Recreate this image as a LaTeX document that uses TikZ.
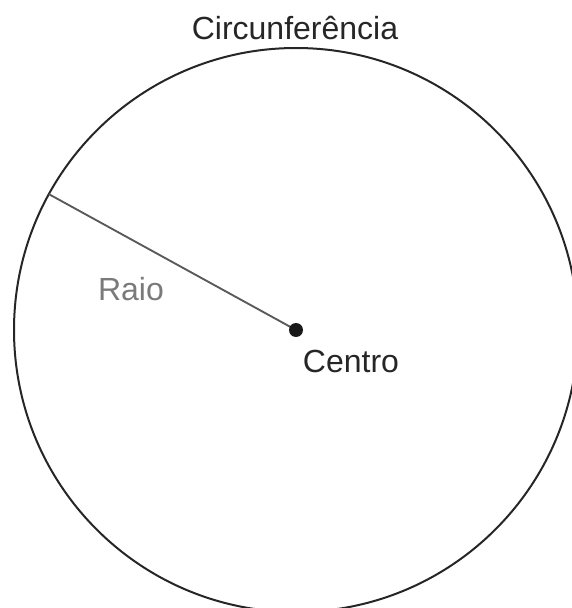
\documentclass[tikz,border=0pt]{standalone}
\usepackage{fontspec}
\setmainfont{Liberation Sans}
\usepackage{xcolor}
\usetikzlibrary{calc}
\definecolor{raiocinza}{HTML}{595959}
\definecolor{textocinza}{HTML}{7A7A7A}
\tikzset{rotulo/.style={font=\fontsize{24}{28}\selectfont, inner sep=0pt}}

\begin{document}
\begin{tikzpicture}[x=0.75pt,y=0.75pt]
\useasboundingbox (0,0) rectangle (572,608);
\def\r{282}
\coordinate (centro) at (296,278);
\draw[line width=1.5pt, black!85] (centro) circle (\r);
\coordinate (borda) at ($(centro)+(151.2:\r)$);
\draw[line width=1.4pt, raiocinza] (centro) -- (borda);
\fill[black!90] (centro) circle (7);
\path (295,580) node[rotulo, text=black!85] (circ) {Circunferência};
\path (131,319) node[rotulo, text=textocinza] (raio) {Raio};
\path (351,247) node[rotulo, text=black!85] (nomecentro) {Centro};
\end{tikzpicture}
\end{document}
